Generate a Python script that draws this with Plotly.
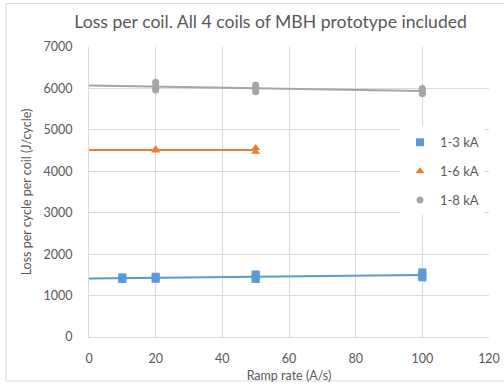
import numpy as np
import plotly.graph_objects as go

# Ramp rates (A/s) and measured loss per cycle per coil (J/cycle)
ramp_13 = [10, 10, 20, 20, 50, 50, 50, 100, 100, 100]
loss_13 = [1400, 1440, 1405, 1455, 1400, 1460, 1510, 1440, 1490, 1560]

ramp_16 = [20, 20, 50, 50]
loss_16 = [4500, 4530, 4470, 4560]

ramp_18 = [20, 20, 20, 20, 50, 50, 50, 50, 100, 100, 100, 100]
loss_18 = [5960, 6000, 6060, 6150, 5920, 5980, 6030, 6080, 5870, 5910, 5960, 6000]

series_names = ["1-3 kA", "1-6 kA", "1-8 kA"]
series_colors = ["#5B9BD5", "#ED7D31", "#A5A5A5"]
series_symbols = ["square", "triangle-up", "circle"]

x_ticks = [0, 20, 40, 60, 80, 100, 120]
y_ticks = [0, 1000, 2000, 3000, 4000, 5000, 6000, 7000]

FONT = "Lato, 'Liberation Sans', sans-serif"
TEXT = "#595959"
GRID = "#D9D9D9"

fig = go.Figure()

data = [(ramp_13, loss_13), (ramp_16, loss_16), (ramp_18, loss_18)]

# Linear trendlines, fitted to each series and drawn from 0 to the largest ramp rate
for (xs, ys), name, color in zip(data, series_names, series_colors):
    slope, intercept = np.polyfit(xs, ys, 1)
    xt = np.array([0, max(xs)])
    fig.add_trace(go.Scatter(
        x=xt, y=slope * xt + intercept, mode="lines",
        line=dict(color=color, width=2), showlegend=False, hoverinfo="skip",
    ))

for (xs, ys), name, color, sym in zip(data, series_names, series_colors, series_symbols):
    fig.add_trace(go.Scatter(
        x=xs, y=ys, mode="markers", name=name, legendgroup=name,
        marker=dict(color=color, symbol=sym, size=8 if sym != "circle" else 7,
                    line=dict(width=0)),
    ))

fig.update_layout(
    width=504, height=384,
    margin=dict(l=89, r=15, t=46.5, b=47, autoexpand=False),
    paper_bgcolor="white", plot_bgcolor="white",
    font=dict(family=FONT, color=TEXT, size=12),
    title=dict(text="Loss per coil. All 4 coils of MBH prototype included",
               x=0.537, xanchor="center", y=0.943, yanchor="middle",
               font=dict(family=FONT, size=17.6, color=TEXT)),
    xaxis=dict(range=[0, 120], tickvals=x_ticks, showgrid=True, gridcolor=GRID,
               gridwidth=1, zeroline=False, showline=True, linecolor=GRID,
               linewidth=1, ticks="outside", ticklen=10, tickcolor="rgba(0,0,0,0)",
               tickfont=dict(size=12.5, color=TEXT),
               title=dict(text="Ramp rate (A/s)", font=dict(size=12.5, color=TEXT),
                          standoff=6)),
    yaxis=dict(range=[0, 7000], tickvals=y_ticks, showgrid=True, gridcolor=GRID,
               gridwidth=1, zeroline=False, showline=True, linecolor=GRID,
               linewidth=1, ticks="outside", ticklen=13, tickcolor="rgba(0,0,0,0)",
               tickfont=dict(size=12.5, color=TEXT),
               title=dict(text="Loss per cycle per coil (J/cycle)",
                          font=dict(size=12.5, color=TEXT), standoff=9)),
    legend=dict(x=0.7775, y=0.723, xanchor="left", yanchor="top",
                bgcolor="white", borderwidth=0, traceorder="grouped",
                tracegroupgap=9, itemwidth=30,
                font=dict(size=13, color=TEXT)),
    shapes=[dict(type="rect", xref="paper", yref="paper",
                 x0=-0.2075, x1=1.05, y0=-0.1515, y1=1.1497,
                 line=dict(color=GRID, width=1), fillcolor="rgba(0,0,0,0)",
                 layer="below")],
    showlegend=True,
)

fig.write_html("out.html")
